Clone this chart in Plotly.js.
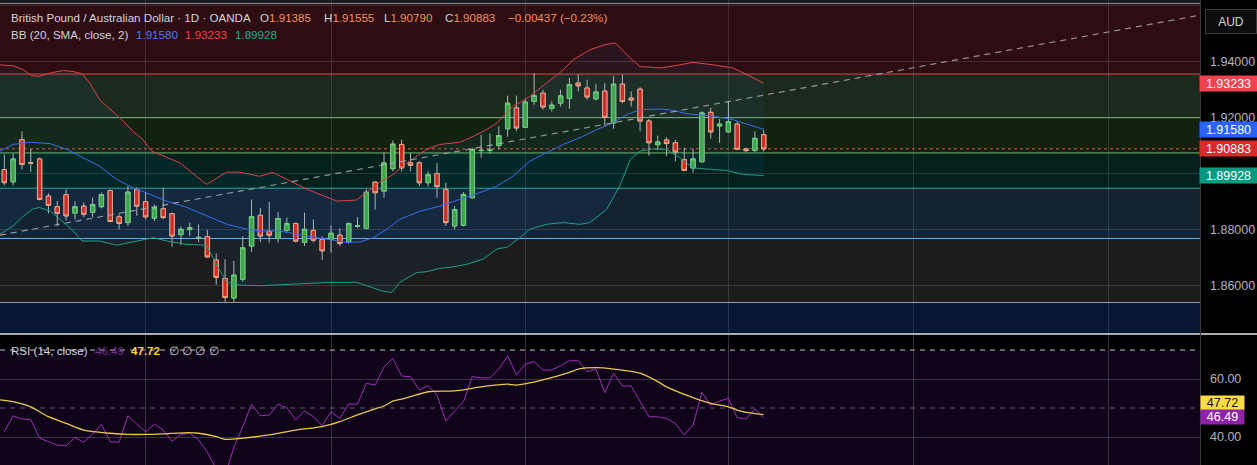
<!DOCTYPE html>
<html><head><meta charset="utf-8">
<script src="https://cdn.plot.ly/plotly-3.0.1.min.js"></script>
<style>html,body{margin:0;padding:0;background:#000;overflow:hidden}#chart{width:1257px;height:465px}</style>
</head><body><div id="chart"></div>
<script>
// ---------- data ----------
const opens=[1.9014,1.8970,1.9121,1.9039,1.9052,1.8919,1.8881,1.8924,1.8858,1.8883,
1.8861,1.8881,1.8939,1.8845,1.8824,1.8942,1.8899,1.8840,1.8874,1.8856,
1.8781,1.8799,1.8769,1.8774,1.8690,1.8624,1.8554,1.8621,1.8740,1.8850,
1.8793,1.8767,1.8796,1.8821,1.8753,1.8796,1.8764,1.8764,1.8779,1.8753,
1.8811,1.8803,1.8969,1.8937,1.9017,1.9104,1.9038,1.9038,1.8967,1.9000,
1.8943,1.8812,1.8814,1.8913,1.9082,1.9083,1.9100,1.9160,1.9235,1.9165,
1.9258,1.9288,1.9233,1.9252,1.9269,1.9324,1.9306,1.9267,1.9295,1.9181,
1.9320,1.9270,1.9302,1.9188,1.9103,1.9120,1.9110,1.9050,1.9020,1.9042,
1.9219,1.9170,1.9149,1.9177,1.9088,1.9083,1.91385];
const highs=[1.9068,1.9071,1.9151,1.9088,1.9057,1.8929,1.8901,1.8943,1.8900,1.8896,
1.8914,1.8932,1.8943,1.8854,1.8955,1.8950,1.8932,1.8889,1.8949,1.8860,
1.8810,1.8824,1.8818,1.8798,1.8714,1.8693,1.8687,1.8775,1.8907,1.8877,
1.8898,1.8862,1.8842,1.8824,1.8860,1.8836,1.8774,1.8814,1.8803,1.8824,
1.8844,1.8943,1.8972,1.9074,1.9118,1.9121,1.9074,1.9044,1.9008,1.9038,
1.8967,1.8883,1.8933,1.9092,1.9139,1.9143,1.9169,1.9279,1.9279,1.9267,
1.9360,1.9300,1.9258,1.9300,1.9342,1.9354,1.9336,1.9321,1.9324,1.9350,
1.9354,1.9294,1.9309,1.9195,1.9136,1.9130,1.9121,1.9092,1.9088,1.9223,
1.9235,1.9195,1.9258,1.9187,1.9092,1.9151,1.91555];
const lows=[1.8957,1.8957,1.9014,1.9006,1.8904,1.8857,1.8811,1.8832,1.8836,1.8843,
1.8843,1.8875,1.8825,1.8800,1.8812,1.8848,1.8836,1.8829,1.8836,1.8737,
1.8743,1.8776,1.8755,1.8699,1.8601,1.8540,1.8540,1.8612,1.8719,1.8755,
1.8753,1.8753,1.8788,1.8753,1.8740,1.8753,1.8690,1.8717,1.8740,1.8749,
1.8804,1.8800,1.8871,1.8913,1.9007,1.9007,1.9008,1.8955,1.8953,1.8913,
1.8812,1.8800,1.8810,1.8913,1.9056,1.9071,1.9086,1.9131,1.9151,1.9163,
1.9246,1.9229,1.9222,1.9240,1.9231,1.9294,1.9264,1.9262,1.9169,1.9160,
1.9252,1.9240,1.9151,1.9064,1.9083,1.9062,1.9044,1.9008,1.9003,1.9039,
1.9125,1.9110,1.9145,1.9083,1.9076,1.9076,1.90790];
const closes=[1.8967,1.9052,1.9032,1.9037,1.8907,1.8886,1.8857,1.8848,1.8881,1.8854,
1.8889,1.8924,1.8828,1.8821,1.8933,1.8883,1.8845,1.8877,1.8842,1.8776,
1.8800,1.8806,1.8771,1.8701,1.8628,1.8556,1.8636,1.8734,1.8845,1.8776,
1.8779,1.8839,1.8821,1.8758,1.8800,1.8761,1.8723,1.8786,1.8749,1.8821,
1.8813,1.8933,1.8931,1.9038,1.9105,1.9020,1.9029,1.8967,1.8996,1.8953,
1.8824,1.8871,1.8925,1.9086,1.9083,1.9085,1.9136,1.9252,1.9163,1.9256,
1.9279,1.9238,1.9245,1.9278,1.9318,1.9314,1.9274,1.9292,1.9201,1.9320,
1.9258,1.9263,1.9188,1.9110,1.9113,1.9107,1.9077,1.9011,1.9052,1.9217,
1.9149,1.9177,1.9186,1.9087,1.9082,1.9126,1.90883];

// Bollinger Bands (20, SMA, 2) as read: bar index -> price
const bbUpperX=[-0.5,1,2.2,3.1,4,5.2,6.7,7.8,8.8,9.7,10.8,12.3,13.3,14.6,15.7,16.7,19.9,22.9,25.2,26.7,28.9,30.4,32.7,34.3,37.7,39.9,41,42.5,44,45.6,47.8,49.3,51.6,53.1,54.6,55.8,57.6,59.5,61.4,63.3,64.4,66.3,68,69.2,70.3,71.1,72,74.3,76.5,78,80.3,82.5,84.1,86];
const bbUpperY=[1.9389,1.9386,1.9371,1.9350,1.9348,1.9360,1.9369,1.9365,1.9357,1.9324,1.9264,1.9223,1.9193,1.9151,1.9121,1.9080,1.9038,1.8961,1.9005,1.9005,1.8990,1.9004,1.8968,1.8943,1.8901,1.8905,1.8932,1.8968,1.8996,1.9038,1.9086,1.9104,1.9112,1.9133,1.9157,1.9181,1.9240,1.9276,1.9324,1.9371,1.9407,1.9443,1.9461,1.9468,1.9432,1.9407,1.9383,1.9378,1.9389,1.9398,1.9389,1.9378,1.9354,1.93233];
const bbMidX=[-0.5,1,2.9,5.2,7.1,8.9,10.8,12.7,14.6,16.5,18.4,20.7,22.9,25.2,27.5,29,31.2,34.2,38.8,40.3,41.8,43.3,44.8,47.1,49.3,51.6,53.9,55.8,57.6,59.5,61.4,63.3,65.2,67.1,68.9,70.5,72,74.3,75.7,77.3,80.3,82.5,86];
const bbMidY=[1.9080,1.9104,1.9112,1.9107,1.9086,1.9056,1.9026,1.8979,1.8949,1.8925,1.8901,1.8878,1.8848,1.8818,1.8800,1.8794,1.8794,1.8776,1.8753,1.8755,1.8770,1.8800,1.8836,1.8865,1.8883,1.8907,1.8932,1.8955,1.8990,1.9044,1.9074,1.9104,1.9128,1.9157,1.9181,1.9211,1.9229,1.9231,1.9226,1.9214,1.9205,1.9193,1.9158];
const bbLowerX=[-0.5,1,2.2,3.3,4,5.2,6.3,7.8,8.8,10.8,12.7,14.6,16.9,18.4,20.7,22.9,24.1,25.2,26.7,29,33.5,36.9,39.9,41.4,42.9,43.9,44.8,46.7,47.8,49.3,50.8,52.4,54.2,55.9,56.9,58.4,59.5,61.4,63.3,65.2,66.3,68.2,69.7,70.9,72,73.5,75,76.5,78,80.3,81.8,83.7,86];
const bbLowerY=[1.8782,1.8812,1.8848,1.8874,1.8878,1.8865,1.8836,1.8794,1.8758,1.8758,1.8743,1.8755,1.8770,1.8758,1.8746,1.8743,1.8669,1.8610,1.8600,1.8598,1.8604,1.8610,1.8610,1.8594,1.8578,1.8574,1.8610,1.8645,1.8648,1.8660,1.8665,1.8675,1.8693,1.8731,1.8735,1.8770,1.8800,1.8818,1.8824,1.8818,1.8824,1.8871,1.8955,1.9050,1.9080,1.9088,1.9086,1.9056,1.9020,1.9014,1.9011,1.8996,1.89928];

// RSI (14) per bar, and its moving average
const rsiValues=[41.8,47.3,46.2,46.0,39.6,38.3,37.2,37.0,39.8,38.2,
41.0,44.4,38.4,38.2,47.3,44.5,41.8,44.4,42.4,38.6,
40.9,41.3,39.0,34.8,29.0,26.5,36.5,43.5,51.3,47.3,
47.6,51.3,50.1,45.9,49.0,47.0,43.9,48.7,46.4,51.4,
51.3,58.5,57.9,64.2,67.1,61.0,60.8,56.2,57.7,54.5,
45.5,49.0,52.2,60.8,60.4,60.4,63.4,68.0,61.4,65.1,
66.0,63.1,63.1,64.6,66.3,66.3,62.5,63.4,55.3,62.0,
57.6,57.6,52.2,47.0,47.0,46.4,44.7,40.7,44.1,55.4,
51.0,52.4,53.3,46.7,46.2,49.7,46.49];
const rsiMaX=[-0.5,1,3,5,7,9,12,14,16,18,21,22,24,25,27,30,33,36,38,40,42,43,44,45,46,48,51,54,57,58,61,64,65,67,69,72,74,75,78,80,82,83,84,86];
const rsiMaY=[52.8,52.2,50.4,47.0,44.7,42.4,41.3,40.9,40.9,41.1,41.5,41.3,40.1,39.2,39.6,40.7,42.4,43.6,45.3,47.6,49.7,50.7,52.4,53.1,53.9,55.6,55.9,57.3,58.2,57.9,59.7,62.3,63.4,63.9,63.4,62.0,59.1,57.3,53.6,51.6,50.4,49.3,48.5,47.72];

// drawings
const trendX=[-0.5,135.4];
const trendY=[1.8779,1.9567];
const fibHigh=1.9609, fibLow=1.8538;
const fibRatios=[0,0.236,0.382,0.5,0.618,0.786,1,1.618];
const fibLineColors=['#8a8d96','#e0474f','#81c784','#6cbf6a','#26a69a','#64b5f6','#a0a3ab'];
const fibZoneColors=['#2d0d12','#1c291d','#132210','#03201c','#142332','#1c1c1c','#061634'];

// axis ticks and labels (1.90000 is hidden under the 1.89928 tag in the reference)
const priceTicks=[1.86,1.88,1.90,1.92,1.94,1.96];
const priceTickText=['1.86000','1.88000','','1.92000','1.94000',''];
const rsiTicks=[40,60];
const rsiTickText=['40.00','60.00'];
const monthTicks=[16,37,59,82,103,125];
const priceTags=[1.93233,1.91580,1.90883,1.89928];
const priceTagColors=['#f0424f','#2962ff','#d92b2b','#089981'];
const header={symbol:'British Pound / Australian Dollar · 1D · OANDA',O:'1.91385',H:'1.91555',L:'1.90790',C:'1.90883',chg:'−0.00437 (−0.23%)'};
const bbLegend=['1.91580','1.93233','1.89928'];
const rsiLegend=['46.49','47.72'];

// ---------- build ----------
const W=1257,H=465;
const px=x=>x/W, py=y=>1-y/H;
const FONT='Liberation Sans, Arial, sans-serif';
const idx=opens.map((_,i)=>i);
const bodyHi=opens.map((o,i)=>Math.max(o,closes[i]));
const bodyLo=opens.map((o,i)=>Math.min(o,closes[i]));
const XR=[-0.487,135.41];

const traces=[
 {type:'scatter',mode:'lines',x:bbUpperX,y:bbUpperY,xaxis:'x',yaxis:'y',line:{color:'#d9444c',width:1},hoverinfo:'skip'},
 {type:'scatter',mode:'lines',x:bbLowerX,y:bbLowerY,xaxis:'x',yaxis:'y',line:{color:'#1f9e88',width:1},fill:'tonexty',fillcolor:'rgba(33,150,243,0.06)',hoverinfo:'skip'},
 {type:'scatter',mode:'lines',x:bbMidX,y:bbMidY,xaxis:'x',yaxis:'y',line:{color:'#3a6df0',width:1},hoverinfo:'skip'},
 {type:'scatter',mode:'lines',x:trendX,y:trendY,xaxis:'x',yaxis:'y',line:{color:'rgba(175,175,180,0.8)',width:1.2,dash:'6px,5px'},hoverinfo:'skip'},
 {type:'candlestick',x:idx,open:opens,high:highs,low:lows,close:closes,xaxis:'x',yaxis:'y',whiskerwidth:0,
  increasing:{line:{color:'#b5b5b5',width:1},fillcolor:'#43a547'},
  decreasing:{line:{color:'#b5b5b5',width:1},fillcolor:'#d6281f'},hoverinfo:'skip'},
 {type:'candlestick',x:idx,open:opens,high:bodyHi,low:bodyLo,close:closes,xaxis:'x',yaxis:'y',whiskerwidth:0,
  increasing:{line:{color:'#6fcf73',width:1},fillcolor:'#43a547'},
  decreasing:{line:{color:'#f7a37e',width:1},fillcolor:'#d6281f'},hoverinfo:'skip'},
 {type:'scatter',mode:'lines',x:idx,y:rsiValues,xaxis:'x2',yaxis:'y2',line:{color:'#9b30b5',width:1},hoverinfo:'skip'},
 {type:'scatter',mode:'lines',x:rsiMaX,y:rsiMaY,xaxis:'x2',yaxis:'y2',line:{color:'#e8c94a',width:1.3,shape:'spline',smoothing:0.6},hoverinfo:'skip'}
];

const shapes=[];
shapes.push({type:'rect',xref:'x domain',yref:'y',x0:0,x1:1,y0:fibHigh,y1:1.97,fillcolor:'#1b1b1b',line:{width:0},layer:'below'});
const fibPrices=fibRatios.map(r=>fibHigh-r*(fibHigh-fibLow));
for(let k=0;k<fibPrices.length-1;k++){
  shapes.push({type:'rect',xref:'x domain',yref:'y',x0:0,x1:1,y0:fibPrices[k+1],y1:fibPrices[k],fillcolor:fibZoneColors[k],line:{width:0},layer:'below'});
}
for(let k=0;k<fibLineColors.length;k++){
  shapes.push({type:'line',xref:'x domain',yref:'y',x0:0,x1:1,y0:fibPrices[k],y1:fibPrices[k],line:{color:fibLineColors[k],width:1},layer:'below'});
}
const lastClose=closes[closes.length-1];
shapes.push({type:'line',xref:'x domain',yref:'y',x0:0,x1:1,y0:lastClose,y1:lastClose,line:{color:'#e0533f',width:1,dash:'dot'},layer:'below'});
shapes.push({type:'rect',xref:'x2 domain',yref:'y2',x0:0,x1:1,y0:30,y1:70,fillcolor:'#0f0419',line:{width:0},layer:'below'});
shapes.push({type:'line',xref:'x2 domain',yref:'y2',x0:0,x1:1,y0:70,y1:70,line:{color:'rgba(225,225,230,0.85)',width:1,dash:'5px,5px'},layer:'below'});
shapes.push({type:'line',xref:'x2 domain',yref:'y2',x0:0,x1:1,y0:50,y1:50,line:{color:'rgba(140,125,155,0.7)',width:1,dash:'5px,5px'},layer:'below'});
shapes.push({type:'line',xref:'paper',yref:'paper',x0:0,x1:1,y0:py(334),y1:py(334),line:{color:'#e6e6e6',width:1.5}});
shapes.push({type:'line',xref:'paper',yref:'paper',x0:px(1200.5),x1:px(1200.5),y0:0,y1:1,line:{color:'#3a3a3a',width:1}});

const ann=[];
const txt=(x,y,t,color,size)=>({xref:'paper',yref:'paper',x:px(x),y:py(y),xanchor:'left',yanchor:'middle',text:t,showarrow:false,font:{family:FONT,size:size||11.6,color:color}});
const ORG='#f0915e';
ann.push(txt(9,17,header.symbol,'#d1d4dc'));
ann.push(txt(258,17,'O<span style="color:'+ORG+'">'+header.O+'</span>','#d1d4dc'));
ann.push(txt(322,17,'H<span style="color:'+ORG+'">'+header.H+'</span>','#d1d4dc'));
ann.push(txt(382,17,'L<span style="color:'+ORG+'">'+header.L+'</span>','#d1d4dc'));
ann.push(txt(443,17,'C<span style="color:'+ORG+'">'+header.C+'</span>','#d1d4dc'));
ann.push(txt(506,17,header.chg,ORG));
ann.push(txt(9,34.5,'BB (20, SMA, close, 2)','#d1d4dc'));
ann.push(txt(134,34.5,bbLegend[0],'#4a7cf7'));
ann.push(txt(183,34.5,bbLegend[1],'#f0424f'));
ann.push(txt(233,34.5,bbLegend[2],'#22ab94'));
ann.push(txt(9,350,'RSI (14, close)','#d1d4dc'));
ann.push(txt(93,350,rsiLegend[0],'#7b2f96'));
ann.push(txt(129,350,'<b>'+rsiLegend[1]+'</b>','#f5d03c'));
ann.push(txt(167,350,'∅ ∅ ∅ ∅','#c0c3cc'));
ann.push({xref:'paper',yref:'paper',x:px(1230.5),y:py(21),xanchor:'center',yanchor:'middle',text:'AUD',showarrow:false,font:{family:FONT,size:12,color:'#d1d4dc'},bgcolor:'#0d0d0d',bordercolor:'#3a3a3a',borderwidth:1,width:48,height:21,borderpad:1});
priceTags.forEach((v,k)=>{
  ann.push({xref:'paper',yref:'y',x:px(1228.7),y:v,xanchor:'center',yanchor:'middle',text:v.toFixed(5),showarrow:false,font:{family:FONT,size:12.5,color:'#ffffff'},bgcolor:priceTagColors[k],width:53,height:11,borderpad:2});
});
ann.push({xref:'paper',yref:'y2',x:px(1222),y:parseFloat(rsiLegend[1]),yshift:12,xanchor:'center',yanchor:'middle',text:rsiLegend[1],showarrow:false,font:{family:FONT,size:12.5,color:'#151515'},bgcolor:'#f9dc48',width:40,height:11,borderpad:1.5});
ann.push({xref:'paper',yref:'y2',x:px(1222),y:parseFloat(rsiLegend[0]),yshift:1,xanchor:'center',yanchor:'middle',text:rsiLegend[0],showarrow:false,font:{family:FONT,size:12.5,color:'#ffffff'},bgcolor:'#8e24aa',width:40,height:11,borderpad:1.5});

const gridPrice='rgba(125,128,140,0.28)';
const gridRsi='rgba(120,95,140,0.45)';
const layout={
 width:W,height:H,margin:{l:0,r:0,t:0,b:0},paper_bgcolor:'#000',plot_bgcolor:'#000',showlegend:false,
 font:{family:FONT,color:'#b2b5be'},
 xaxis:{domain:[0,1200/W],range:XR,anchor:'y',tickvals:monthTicks,showticklabels:false,showgrid:true,gridcolor:gridPrice,zeroline:false,showline:false,rangeslider:{visible:false},fixedrange:true},
 xaxis2:{domain:[0,1200/W],range:XR,anchor:'y2',tickvals:monthTicks,showticklabels:false,showgrid:true,gridcolor:gridRsi,zeroline:false,showline:false,fixedrange:true},
 yaxis:{domain:[py(333),1],range:[1.84286,1.96214],side:'right',anchor:'x',tickvals:priceTicks,ticktext:priceTickText,ticks:'',ticklabelstandoff:9,tickfont:{family:FONT,size:12.5,color:'#b2b5be'},showgrid:true,gridcolor:gridPrice,zeroline:false,showline:false,fixedrange:true},
 yaxis2:{domain:[0,py(335)],range:[30.35,75.17],side:'right',anchor:'x2',tickvals:rsiTicks,ticktext:rsiTickText,ticks:'',ticklabelstandoff:9,tickfont:{family:FONT,size:12.5,color:'#b2b5be'},showgrid:true,gridcolor:gridRsi,zeroline:false,showline:false,fixedrange:true},
 shapes:shapes,annotations:ann
};
Plotly.newPlot('chart',traces,layout,{staticPlot:true,displayModeBar:false});
</script>
</body></html>
